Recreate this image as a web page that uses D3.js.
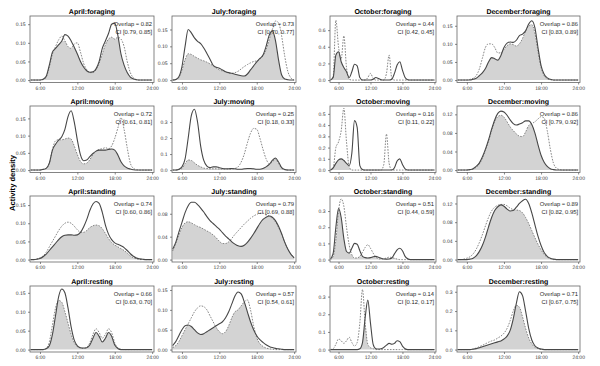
<!DOCTYPE html>
<html><head><meta charset="utf-8">
<script src="https://cdn.jsdelivr.net/npm/d3@7"></script>
<style>body{margin:0;background:#fff;} text{font-family:"Liberation Sans",Arial,sans-serif;-webkit-font-smoothing:antialiased;text-rendering:geometricPrecision;}</style>
</head><body>
<script>
const months = ["April","July","October","December"];
const behaviours = ["foraging","moving","standing","resting"];
const hours = [4.5,5,5.5,6,6.5,7,7.5,8,8.5,9,9.5,10,10.5,11,11.5,12,12.5,13,13.5,14,14.5,15,15.5,16,16.5,17,17.5,18,18.5,19,19.5,20,20.5,21,21.5,22,22.5,23,23.5,24];
const xTickValues = [6,12,18,24];
const xTickLabels = ["6:00","12:00","18:00","24:00"];

// overlap estimates (row = behaviour, col = month)
const overlapVals = [0.82,0.73,0.44,0.86, 0.72,0.25,0.16,0.86, 0.74,0.79,0.51,0.89, 0.66,0.57,0.14,0.71];
const ciLow  = [0.79,0.70,0.42,0.83, 0.61,0.18,0.11,0.79, 0.60,0.69,0.44,0.82, 0.63,0.54,0.12,0.67];
const ciHigh = [0.85,0.77,0.45,0.89, 0.81,0.33,0.22,0.92, 0.86,0.88,0.59,0.95, 0.70,0.61,0.17,0.75];

const yTops = [0.172,0.19,0.77,0.177, 0.186,0.40,0.57,0.138, 0.175,0.111,0.393,0.136, 0.168,0.16,0.36,0.33];
const yTickSets = [
 [0,0.05,0.10,0.15],[0,0.05,0.10,0.15],[0,0.2,0.4,0.6],[0,0.05,0.10,0.15],
 [0,0.05,0.10,0.15],[0,0.1,0.2,0.3],[0,0.1,0.2,0.3,0.4,0.5],[0,0.04,0.08,0.12],
 [0,0.05,0.10,0.15],[0,0.04,0.08],[0,0.1,0.2,0.3],[0,0.04,0.08,0.12],
 [0,0.05,0.10,0.15],[0,0.05,0.10,0.15],[0,0.1,0.2,0.3],[0,0.1,0.2,0.3]
];

// density curves: solid and dotted per panel
const aprForSolid = [0,0,0,0,0.002,0.01,0.04,0.075,0.085,0.095, 0.105,0.122,0.118,0.105,0.088,0.07,0.05,0.035,0.025,0.021, 0.022,0.03,0.05,0.085,0.105,0.125,0.15,0.153,0.12,0.07, 0.04,0.02,0.008,0.003,0.001,0,0,0,0,0];
const aprForDotted = [0,0,0,0,0.001,0.008,0.035,0.07,0.09,0.108, 0.118,0.105,0.09,0.085,0.097,0.1,0.075,0.045,0.028,0.02, 0.02,0.028,0.045,0.07,0.095,0.11,0.115,0.11,0.115,0.11, 0.09,0.05,0.02,0.006,0.001,0,0,0,0,0];
const julForSolid = [0,0.002,0.01,0.04,0.1,0.15,0.14,0.125,0.115,0.108, 0.095,0.079,0.062,0.044,0.038,0.035,0.03,0.025,0.022,0.02, 0.017,0.015,0.013,0.012,0.018,0.03,0.042,0.054,0.064,0.074, 0.1,0.133,0.146,0.118,0.06,0.015,0.003,0.001,0,0];
const julForDotted = [0,0.001,0.008,0.03,0.06,0.078,0.076,0.07,0.065,0.06, 0.057,0.053,0.048,0.042,0.036,0.03,0.027,0.024,0.021,0.02, 0.022,0.026,0.033,0.04,0.046,0.051,0.055,0.057,0.062,0.072, 0.09,0.12,0.15,0.175,0.17,0.13,0.07,0.025,0.006,0];
const octForSolid = [0,0.03,0.3,0.34,0.22,0.15,0.1,0.03,0.1,0.19, 0.17,0.03,0,0,0,0,0.01,0.03,0.02,0.005, 0,0,0,0.01,0.08,0.18,0.22,0.12,0.03,0.003, 0,0,0,0,0,0,0,0,0,0];
const octForDotted = [0,0.05,0.72,0.4,0.25,0.53,0.15,0.01,0,0, 0,0,0,0,0.03,0.08,0.02,0,0,0, 0,0.08,0.3,0.02,0,0,0,0,0,0, 0,0,0,0,0,0,0,0,0,0];
const decForSolid = [0,0,0,0,0,0.002,0.005,0.012,0.02,0.032, 0.05,0.062,0.059,0.055,0.068,0.09,0.102,0.105,0.104,0.11, 0.123,0.127,0.136,0.155,0.164,0.145,0.09,0.04,0.016,0.006, 0.002,0,0,0,0,0,0,0,0,0];
const decForDotted = [0,0,0,0,0.002,0.005,0.012,0.03,0.06,0.09, 0.1,0.1,0.09,0.075,0.075,0.085,0.095,0.1,0.098,0.094, 0.1,0.115,0.135,0.15,0.153,0.13,0.08,0.035,0.012,0.003, 0.001,0,0,0,0,0,0,0,0,0];

const aprMovSolid = [0,0,0,0,0.002,0.005,0.02,0.058,0.075,0.087, 0.097,0.118,0.155,0.172,0.14,0.087,0.044,0.027,0.029,0.039, 0.048,0.055,0.058,0.058,0.058,0.06,0.061,0.058,0.044,0.024, 0.012,0.006,0.003,0.001,0,0,0,0,0,0];
const aprMovDotted = [0,0,0,0,0.002,0.005,0.02,0.06,0.085,0.088, 0.088,0.09,0.093,0.09,0.07,0.045,0.025,0.018,0.02,0.03, 0.045,0.055,0.06,0.062,0.065,0.062,0.07,0.092,0.122,0.152, 0.118,0.065,0.02,0.005,0.001,0,0,0,0,0];
const julMovSolid = [0,0,0.005,0.02,0.07,0.2,0.34,0.38,0.3,0.15, 0.06,0.025,0.015,0.02,0.02,0.015,0.01,0.008,0.008,0.01, 0.008,0.005,0.005,0.008,0.01,0.01,0.008,0.005,0.005,0.01, 0.02,0.035,0.06,0.075,0.05,0.015,0.003,0,0,0];
const julMovDotted = [0,0,0.003,0.01,0.04,0.063,0.06,0.045,0.03,0.02, 0.012,0.01,0.008,0.008,0.008,0.007,0.006,0.006,0.006,0.007, 0.01,0.02,0.05,0.1,0.17,0.23,0.26,0.255,0.2,0.13, 0.07,0.04,0.05,0.07,0.04,0.012,0.002,0,0,0];
const octMovSolid = [0,0.02,0.06,0.09,0.1,0.085,0.06,0.04,0.15,0.44, 0.38,0.04,0.005,0,0,0,0,0,0,0, 0,0,0,0,0.02,0.08,0.1,0.05,0.01,0, 0,0,0,0,0,0,0,0,0,0];
const octMovDotted = [0,0.02,0.2,0.25,0.35,0.55,0.25,0.03,0,0, 0,0,0,0,0,0,0,0,0,0, 0.05,0.32,0.06,0,0,0,0,0,0,0, 0,0,0,0,0,0,0,0,0,0];
const decMovSolid = [0,0,0,0,0.001,0.003,0.008,0.015,0.028,0.045, 0.065,0.088,0.108,0.122,0.127,0.125,0.118,0.108,0.1,0.097, 0.099,0.102,0.106,0.106,0.098,0.08,0.055,0.032,0.017,0.008, 0.003,0.001,0,0,0,0,0,0,0,0];
const decMovDotted = [0,0,0,0,0.001,0.002,0.006,0.013,0.025,0.042, 0.062,0.085,0.105,0.115,0.118,0.114,0.104,0.093,0.085,0.078, 0.073,0.072,0.082,0.096,0.1,0.104,0.11,0.115,0.112,0.085, 0.045,0.015,0.004,0.001,0,0,0,0,0,0];

const aprStaSolid = [0,0,0.001,0.003,0.008,0.015,0.025,0.035,0.045,0.055, 0.063,0.067,0.068,0.068,0.067,0.068,0.075,0.09,0.11,0.135, 0.153,0.16,0.155,0.13,0.095,0.07,0.055,0.046,0.042,0.038, 0.033,0.025,0.016,0.009,0.004,0.002,0.001,0,0,0];
const aprStaDotted = [0,0,0.002,0.005,0.01,0.02,0.035,0.05,0.065,0.08, 0.092,0.1,0.103,0.1,0.092,0.082,0.075,0.075,0.08,0.088, 0.093,0.095,0.093,0.085,0.072,0.058,0.047,0.04,0.035,0.03, 0.025,0.018,0.01,0.005,0.002,0,0,0,0,0];
const julStaSolid = [0.018,0.03,0.048,0.065,0.082,0.094,0.1,0.1,0.096,0.09, 0.083,0.075,0.068,0.063,0.058,0.053,0.047,0.041,0.036,0.031, 0.027,0.024,0.023,0.025,0.03,0.037,0.045,0.054,0.063,0.07, 0.074,0.076,0.074,0.068,0.058,0.045,0.03,0.018,0.009,0.003];
const julStaDotted = [0.015,0.028,0.043,0.056,0.064,0.066,0.064,0.061,0.058,0.056, 0.053,0.05,0.047,0.043,0.038,0.032,0.028,0.028,0.031,0.037, 0.044,0.05,0.056,0.062,0.067,0.072,0.076,0.079,0.081,0.081, 0.079,0.076,0.072,0.066,0.056,0.044,0.03,0.018,0.009,0.003];
const octStaSolid = [0.005,0.04,0.2,0.315,0.26,0.13,0.05,0.04,0.07,0.1, 0.095,0.055,0.02,0.012,0.01,0.012,0.018,0.02,0.015,0.008, 0.004,0.003,0.004,0.01,0.035,0.06,0.07,0.055,0.02,0.005, 0,0,0,0,0,0,0,0,0,0];
const octStaDotted = [0,0.02,0.12,0.3,0.375,0.33,0.2,0.09,0.03,0.01, 0.01,0.02,0.045,0.075,0.092,0.07,0.04,0.015,0.005,0.003, 0.005,0.01,0.015,0.013,0.008,0.003,0,0,0,0, 0,0,0,0,0,0,0,0,0,0];
const decStaSolid = [0,0,0,0,0.001,0.003,0.008,0.017,0.03,0.048, 0.07,0.09,0.105,0.113,0.117,0.114,0.108,0.104,0.105,0.112, 0.12,0.126,0.129,0.12,0.1,0.075,0.05,0.03,0.015,0.007, 0.003,0.001,0,0,0,0,0,0,0,0];
const decStaDotted = [0,0,0.001,0.003,0.006,0.012,0.022,0.036,0.053,0.072, 0.09,0.104,0.112,0.116,0.118,0.118,0.115,0.11,0.107,0.106, 0.105,0.1,0.09,0.077,0.062,0.047,0.033,0.021,0.011,0.005, 0.002,0,0,0,0,0,0,0,0,0];

const aprResSolid = [0,0,0,0,0,0.002,0.01,0.04,0.09,0.14, 0.16,0.15,0.11,0.06,0.025,0.01,0.005,0.004,0.005,0.012, 0.03,0.045,0.035,0.02,0.03,0.045,0.035,0.012,0.003,0, 0,0,0,0,0,0,0,0,0,0];
const aprResDotted = [0,0,0,0,0,0.003,0.02,0.065,0.11,0.13, 0.125,0.1,0.07,0.04,0.018,0.008,0.004,0.003,0.006,0.018, 0.04,0.055,0.045,0.03,0.04,0.055,0.045,0.018,0.005,0.001, 0,0,0,0,0,0,0,0,0,0];
const julResSolid = [0.01,0.02,0.035,0.05,0.06,0.062,0.058,0.05,0.042,0.038, 0.04,0.045,0.05,0.055,0.06,0.065,0.07,0.08,0.095,0.115, 0.135,0.145,0.14,0.12,0.095,0.07,0.05,0.035,0.025,0.018, 0.012,0.008,0.005,0.003,0.002,0.001,0,0,0,0];
const julResDotted = [0.005,0.01,0.02,0.035,0.05,0.065,0.08,0.095,0.105,0.11, 0.108,0.1,0.085,0.07,0.055,0.045,0.04,0.045,0.06,0.08, 0.095,0.1,0.11,0.12,0.125,0.1,0.06,0.03,0.015,0.008, 0.004,0.002,0.001,0,0,0,0,0,0,0];
const octResSolid = [0,0,0,0,0,0,0,0,0,0, 0,0.005,0.04,0.18,0.28,0.15,0.03,0.005,0.003,0.005, 0.012,0.025,0.035,0.03,0.035,0.05,0.045,0.02,0.005,0, 0,0,0,0,0,0,0,0,0,0];
const octResDotted = [0,0.005,0.03,0.06,0.05,0.035,0.05,0.07,0.04,0.02, 0.04,0.15,0.34,0.15,0.03,0.01,0.005,0,0,0, 0,0,0,0,0,0,0,0,0,0, 0,0,0,0,0,0,0,0,0,0];
const decResSolid = [0,0,0,0,0,0.002,0.005,0.01,0.015,0.02, 0.025,0.03,0.035,0.04,0.045,0.055,0.07,0.1,0.16,0.24, 0.3,0.28,0.2,0.11,0.05,0.02,0.008,0.003,0,0, 0,0,0,0,0,0,0,0,0,0];
const decResDotted = [0,0,0,0,0,0.003,0.008,0.015,0.022,0.03, 0.038,0.045,0.05,0.06,0.07,0.085,0.11,0.15,0.2,0.23, 0.22,0.17,0.11,0.06,0.03,0.012,0.005,0,0,0, 0,0,0,0,0,0,0,0,0,0];

const solidList = [aprForSolid,julForSolid,octForSolid,decForSolid, aprMovSolid,julMovSolid,octMovSolid,decMovSolid, aprStaSolid,julStaSolid,octStaSolid,decStaSolid, aprResSolid,julResSolid,octResSolid,decResSolid];
const dottedList = [aprForDotted,julForDotted,octForDotted,decForDotted, aprMovDotted,julMovDotted,octMovDotted,decMovDotted, aprStaDotted,julStaDotted,octStaDotted,decStaDotted, aprResDotted,julResDotted,octResDotted,decResDotted];

// layout
const colX0 = [30,172,330,457], colX1 = [154,296,436,580];
const rowY0 = [16,106,196,286], rowY1 = [82.5,172.5,262,352];

const svg = d3.select("body").append("svg").attr("width",600).attr("height",366);
const defs = svg.append("defs");

for (let r = 0; r < 4; r++) {
  for (let c = 0; c < 4; c++) {
    const i = r*4 + c;
    const x0 = colX0[c], x1 = colX1[c], y0 = rowY0[r], y1 = rowY1[r];
    const x = d3.scaleLinear().domain([4.4,24.3]).range([x0,x1]);
    const top = yTops[i];
    const y = d3.scaleLinear().domain([-top*0.038, top]).range([y1,y0]);
    const g = svg.append("g");
    const cid = "clip"+i;
    defs.append("clipPath").attr("id",cid).append("rect").attr("x",x0).attr("y",y0).attr("width",x1-x0).attr("height",y1-y0);
    const s = solidList[i], d = dottedList[i];
    const pts = hours.map((h,k)=>({h, s:s[k], d:d[k], m:Math.min(s[k],d[k])}));
    const area = d3.area().x(p=>x(p.h)).y0(y(0)).y1(p=>y(p.m)).curve(d3.curveMonotoneX);
    const lineS = d3.line().x(p=>x(p.h)).y(p=>y(p.s)).curve(d3.curveMonotoneX);
    const lineD = d3.line().x(p=>x(p.h)).y(p=>y(p.d)).curve(d3.curveMonotoneX);
    const pg = g.append("g").attr("clip-path",`url(#${cid})`);
    pg.append("path").datum(pts).attr("d",area).attr("fill","#d3d3d3");
    pg.append("path").datum(pts).attr("d",lineD).attr("fill","none").attr("stroke","#7f7f7f").attr("stroke-width",0.95).attr("stroke-dasharray","1.6,1.3");
    pg.append("path").datum(pts).attr("d",lineS).attr("fill","none").attr("stroke","#474747").attr("stroke-width",1.1);
    g.append("rect").attr("x",x0).attr("y",y0).attr("width",x1-x0).attr("height",y1-y0).attr("fill","none").attr("stroke","#666").attr("stroke-width",0.8);

    const fmt = top < 0.3 ? d3.format(".2f") : d3.format(".1f");
    const ax = g.append("g").attr("transform",`translate(0,${y1})`)
      .call(d3.axisBottom(x).tickValues(xTickValues).tickFormat((v,k)=>xTickLabels[k]).tickSize(2).tickPadding(1.8));
    const ay = g.append("g").attr("transform",`translate(${x0},0)`)
      .call(d3.axisLeft(y).tickValues(yTickSets[i]).tickFormat(fmt).tickSize(2).tickPadding(2.5));
    [ax,ay].forEach(a=>{
      a.select(".domain").remove();
      a.selectAll("line").attr("stroke","#555").attr("stroke-width",0.7);
      a.selectAll("text").attr("font-size",5).attr("fill","#333").attr("font-family","Liberation Sans, Arial, sans-serif");
    });

    g.append("text").attr("x",(x0+x1)/2).attr("y",y0-2).attr("text-anchor","middle")
      .attr("font-size",7).attr("font-weight","bold").attr("fill","#000")
      .text(`${months[c]}:${behaviours[r]}`);
    g.append("text").attr("x",x1-2).attr("y",y0+10).attr("text-anchor","end")
      .attr("font-size",5.8).attr("fill","#222").text(`Overlap = ${overlapVals[i].toFixed(2)}`);
    g.append("text").attr("x",x1-2).attr("y",y0+17.5).attr("text-anchor","end")
      .attr("font-size",5.8).attr("fill","#222").text(`CI [${ciLow[i].toFixed(2)}, ${ciHigh[i].toFixed(2)}]`);
  }
}

svg.append("text").attr("transform","translate(14.5,183) rotate(-90)").attr("text-anchor","middle")
  .attr("font-size",7.6).attr("font-weight","bold").attr("fill","#000").text("Activity density");
</script>
</body></html>
